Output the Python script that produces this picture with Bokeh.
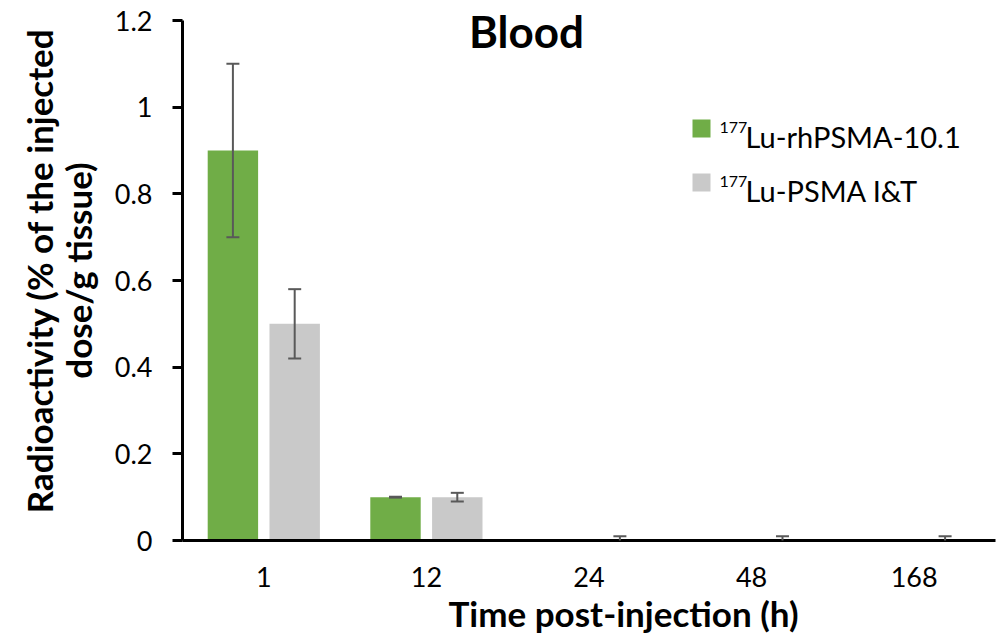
from bokeh.plotting import figure
from bokeh.models import (ColumnDataSource, FactorRange, Range1d, Whisker, TeeHead,
                          Label, FixedTicker, PrintfTickFormatter, BoxAnnotation, Title,
                          LinearAxis)
from bokeh.transform import dodge
from bokeh.embed import file_html
from bokeh.resources import INLINE

# Blood uptake (%ID/g) over time for the two tracers
times = ["1", "12", "24", "48", "168"]
rh_mean = [0.9, 0.1, 0.0, 0.0, 0.0]
rh_sd = [0.2, 0.001, 0.0, 0.0, 0.0]
it_mean = [0.5, 0.1, 0.0, 0.0, 0.0]
it_sd = [0.08, 0.01, 0.01, 0.01, 0.01]
y_ticks = [0, 0.2, 0.4, 0.6, 0.8, 1.0, 1.2]

series_names = ["Lu-rhPSMA-10.1", "Lu-PSMA I&T"]
series_colors = ["#70AD47", "#C9C9C9"]
FONT = "Lato"

W, H = 1003, 636
LEFT, RIGHT, BOTTOM = 182, 8, 96
Y_MAX = 1.2
# the frame reaches the top edge so the heading is not clipped;
# the axis itself stops at Y_MAX (20 px below the top)
y_end = Y_MAX * (H - BOTTOM) / (H - BOTTOM - 20)

p = figure(width=W, height=H, x_range=FactorRange(*times, range_padding=0),
           y_range=Range1d(0, y_end), output_backend="svg", toolbar_location=None,
           min_border_left=LEFT, min_border_right=RIGHT, min_border_top=0,
           min_border_bottom=BOTTOM)
p.outline_line_color = None
p.xgrid.visible = False
p.ygrid.visible = False
p.background_fill_color = "white"
p.border_fill_color = "white"

offset = 0.19
bar_w = 0.31
groups = [(rh_mean, rh_sd, -offset, series_colors[0]),
          (it_mean, it_sd, offset, series_colors[1])]
for mean, sd, off, color in groups:
    src = ColumnDataSource(dict(t=times, v=mean))
    p.vbar(x=dodge("t", off, range=p.x_range), top="v", width=bar_w, source=src,
           fill_color=color, line_color=None)
    keep = [i for i, s in enumerate(sd) if s > 0]
    esrc = ColumnDataSource(dict(
        t=[times[i] for i in keep],
        lo=[mean[i] - sd[i] for i in keep],
        hi=[mean[i] + sd[i] for i in keep]))
    # error bars drawn over the bars
    w = Whisker(base=dodge("t", off, range=p.x_range), lower="lo", upper="hi",
                source=esrc, line_color="#595959", line_width=2, level="annotation",
                upper_head=TeeHead(size=13, line_color="#595959", line_width=2),
                lower_head=TeeHead(size=13, line_color="#595959", line_width=2))
    p.add_layout(w)

LABEL_SIZE = "35px"

# y axis with the second line of its title
p.yaxis.bounds = (0, Y_MAX)
p.yaxis.ticker = FixedTicker(ticks=y_ticks)
p.yaxis.formatter = PrintfTickFormatter(format="%g")
p.yaxis.minor_tick_line_color = None
p.yaxis.major_tick_out = 10
p.yaxis.major_tick_in = 0
p.yaxis.major_tick_line_width = 3
p.yaxis.axis_line_width = 3
p.yaxis.axis_line_color = "black"
p.yaxis.major_tick_line_color = "black"
p.yaxis.major_label_text_font = FONT
p.yaxis.major_label_text_font_size = "27px"
p.yaxis.major_label_text_color = "black"
p.yaxis.major_label_standoff = 20
p.yaxis.axis_label = "dose/g tissue)"
p.yaxis.axis_label_text_font = FONT
p.yaxis.axis_label_text_font_style = "bold"
p.yaxis.axis_label_text_font_size = LABEL_SIZE
p.yaxis.axis_label_text_color = "black"
p.yaxis.axis_label_standoff = 13

# bare outer axis carrying the first line of the y title
outer = LinearAxis(ticker=FixedTicker(ticks=[]), axis_line_color=None,
                   major_tick_line_color=None, minor_tick_line_color=None,
                   major_tick_out=0, major_tick_in=0, major_label_standoff=0,
                   axis_label="Radioactivity (% of the injected",
                   axis_label_text_font=FONT, axis_label_text_font_style="bold",
                   axis_label_text_font_size=LABEL_SIZE, axis_label_text_color="black",
                   axis_label_standoff=-6)
p.add_layout(outer, "left")

p.xaxis.major_tick_line_color = None
p.xaxis.axis_line_width = 3
p.xaxis.axis_line_color = "black"
p.xaxis.major_label_text_font = FONT
p.xaxis.major_label_text_font_size = "27px"
p.xaxis.major_label_text_color = "black"
p.xaxis.major_label_standoff = 20

p.add_layout(Title(text="Time post-injection (h)", align="left", offset=448 - LEFT,
                   standoff=0, text_font=FONT, text_font_style="bold",
                   text_font_size="35px", text_color="black"), "below")

# heading
fb = H - BOTTOM
p.add_layout(Label(x=526 - LEFT, y=fb - 30, x_units="screen", y_units="screen",
                   text="Blood", text_font=FONT, text_font_style="bold",
                   text_color="black", text_font_size="44px",
                   text_align="center", text_baseline="middle"))

# legend
rows = [(119, 137, 127, 136), (173, 191, 181, 190)]
for name, color, (top, bot, sup_base, base) in zip(series_names, series_colors, rows):
    p.add_layout(BoxAnnotation(left=692 - LEFT, right=710 - LEFT, top=fb - top, bottom=fb - bot,
                               left_units="screen", right_units="screen",
                               top_units="screen", bottom_units="screen",
                               fill_color=color, fill_alpha=1, line_color=None))
    p.add_layout(Label(x=719 - LEFT, y=fb - sup_base, x_units="screen", y_units="screen",
                       text="177", text_font=FONT, text_font_size="16px",
                       text_color="black", text_baseline="alphabetic"))
    p.add_layout(Label(x=745 - LEFT, y=fb - base, x_units="screen", y_units="screen",
                       text=name, text_font=FONT, text_font_size="29px",
                       text_color="black", text_baseline="alphabetic"))

open("out.html", "w").write(file_html(p, INLINE))
